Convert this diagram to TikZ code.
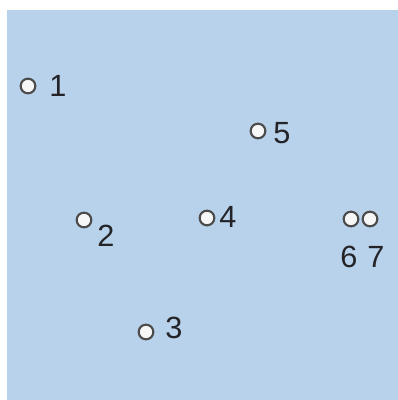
\documentclass[tikz,border=0pt]{standalone}
\usepackage{fontspec}
\setmainfont{Liberation Sans}
\usepackage{tikz}
\usetikzlibrary{positioning}
\definecolor{mapblue}{RGB}{185,210,235}
\definecolor{digitgray}{RGB}{35,35,40}

\begin{document}
\begin{tikzpicture}[x=0.75pt,y=-0.75pt,line join=round,
  site/.style={circle,draw=black!70,line width=1.6pt,fill=gray!6,minimum size=11pt,inner sep=0pt},
  num/.style={text=digitgray,inner sep=0pt,font=\fontsize{23}{23}\selectfont}]
\useasboundingbox (0,0) rectangle (398,400);
% background panel
\fill[mapblue] (7,10) rectangle (398,400);
% sites
\node[site] (c1) at (28,86) {};
\node[site] (c2) at (84,220) {};
\node[site] (c3) at (146,332) {};
\node[site] (c4) at (207,218) {};
\node[site] (c5) at (258,131) {};
\node[site] (c6) at (351,219) {};
\node[site] (c7) at (370,219) {};
% numbers
\node[num] (l1) at (58,86) {1};
\node[num] (l2) at (106,236) {2};
\node[num] (l3) at (174,328) {3};
\node[num] (l4) at (228,217) {4};
\node[num] (l5) at (282,133) {5};
\node[num] (l6) at (349,257) {6};
\node[num] (l7) at (376,257) {7};
\end{tikzpicture}
\end{document}
